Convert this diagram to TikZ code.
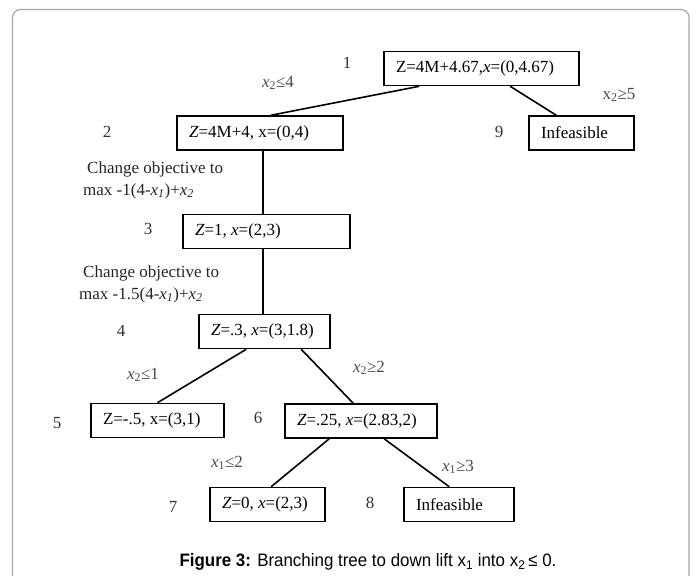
\documentclass[tikz,border=0pt]{standalone}
\usepackage{fontspec}
\setmainfont{Liberation Serif}
\newfontfamily\capfont{Liberation Sans}[FakeStretch=0.94]
\newcommand\bxt[2]{\makebox[#1][l]{#2}}
\begin{document}
\begin{tikzpicture}[x=1pt,y=-1pt,
  every node/.style={font=\fontsize{17}{20}\selectfont},
  box/.style={draw, line width=1.6pt, minimum height=34pt, inner xsep=12pt, inner ysep=0pt},
  conn/.style={line width=1.6pt},
  num/.style={text=black!80},
  elab/.style={text=black!70, inner sep=0pt},
  txt/.style={anchor=west, inner sep=0pt, text=black!85}]
\useasboundingbox (0,0) rectangle (697,576);
\fill[white] (0,0) rectangle (697,576);
% frame
\draw[black!35, line width=1.2pt, rounded corners=8pt] (12.5,576) -- (12.5,9.5) -- (689,9.5) -- (689,576);

% boxes
\node[box] (n1) at (481.5,68.5) {\bxt{171pt}{Z=4M+4.67,\textit{x}=(0,4.67)}};
\node[box] (n2) at (260,133) {\bxt{142pt}{\textit{Z}=4M+4, x=(0,4)}};
\node[box] (n9) at (581.5,133) {\bxt{81pt}{Infeasible}};
\node[box] (n3) at (266.5,231.5) {\bxt{143pt}{\textit{Z}=1, \textit{x}=(2,3)}};
\node[box] (n4) at (264.5,331.5) {\bxt{107pt}{\textit{Z}=.3, \textit{x}=(3,1.8)}};
\node[box] (n5) at (157.5,420.5) {\bxt{109pt}{Z=-.5, x=(3,1)}};
\node[box] (n6) at (361,421) {\bxt{128pt}{\textit{Z}=.25, \textit{x}=(2.83,2)}};
\node[box] (n7) at (267.5,504.5) {\bxt{91pt}{\textit{Z}=0, \textit{x}=(2,3)}};
\node[box] (n8) at (459,504.5) {\bxt{86pt}{Infeasible}};

% numbers
\node[num] (l1) at (347,63) {1};
\node[num] (l2) at (107,132) {2};
\node[num] (l9) at (499,132) {9};
\node[num] (l3) at (148,229) {3};
\node[num] (l4) at (121,331) {4};
\node[num] (l5) at (57,423) {5};
\node[num] (l6) at (258,418) {6};
\node[num] (l7) at (173,507) {7};
\node[num] (l8) at (370,503) {8};

% connectors
\draw[conn] ([xshift=36pt]n1.south west) -- ([xshift=95pt]n2.north west);
\draw[conn] ([xshift=127pt]n1.south west) -- ([xshift=28pt]n9.north west);
\draw[conn] ([xshift=87pt]n2.south west) -- ([xshift=81pt]n3.north west);
\draw[conn] ([xshift=81pt]n3.south west) -- ([xshift=65pt]n4.north west);
\draw[conn] ([xshift=48pt]n4.south west) -- (n5.north);
\draw[conn] ([xshift=103pt]n4.south west) -- ([xshift=69pt]n6.north west);
\draw[conn] ([xshift=45pt]n6.south west) -- ([xshift=62pt]n7.north west);
\draw[conn] ([xshift=100pt]n6.south west) -- ([xshift=46pt]n8.north west);

% edge labels
\node[elab] (e12) at (278,83) {\textit{x}\textsubscript{2}≤4};
\node[elab] (e19) at (619,95) {x\textsubscript{2}≥5};
\node[elab] (e45) at (143,375) {\textit{x}\textsubscript{2}≤1};
\node[elab] (e46) at (369,368) {\textit{x}\textsubscript{2}≥2};
\node[elab] (e67) at (227,463) {\textit{x}\textsubscript{1}≤2};
\node[elab] (e68) at (458,467) {\textit{x}\textsubscript{1}≥3};

% objective notes
\node[txt] (c1a) at (87,169) {Change objective to};
\node[txt] (c1b) at (83,191) {max -1(4-\textit{x}\textsubscript{\textit{1}})+\textit{x}\textsubscript{\textit{2}}};
\node[txt] (c2a) at (83,273) {Change objective to};
\node[txt] (c2b) at (79,295) {max -1.5(4-\textit{x}\textsubscript{\textit{1}})+\textit{x}\textsubscript{\textit{2}}};

% caption
\node[font=\capfont\fontsize{18}{21}\selectfont, inner sep=0pt] (cap) at (368,562)
  {\textbf{Figure 3:} Branching tree to down lift x\textsubscript{1} into x\textsubscript{2}\,≤ 0.};
\end{tikzpicture}
\end{document}
